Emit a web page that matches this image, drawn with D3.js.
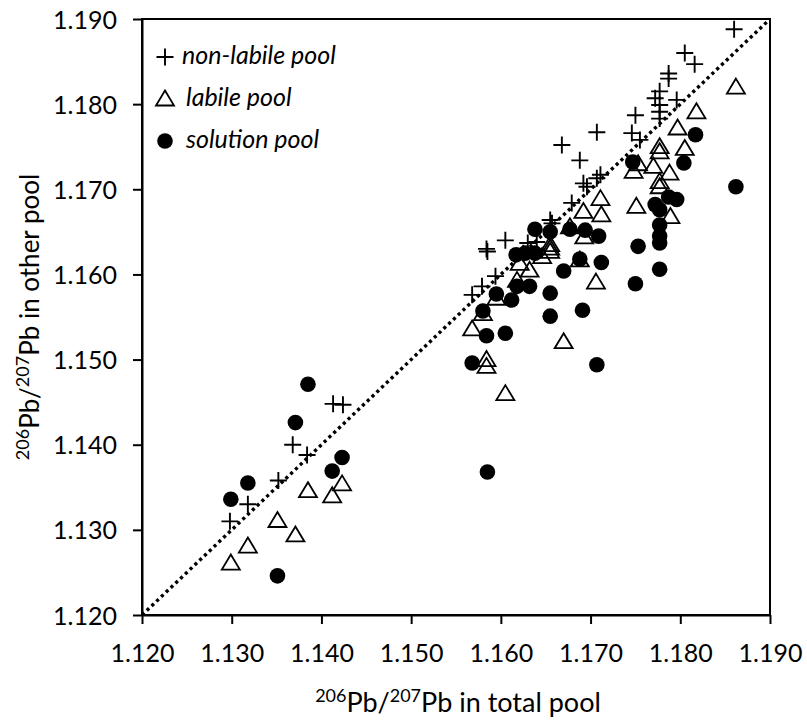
<!DOCTYPE html>
<html>
<head>
<meta charset="utf-8">
<script src="https://cdn.jsdelivr.net/npm/d3@7"></script>
<style>
  body { margin: 0; background: #fff; }
  svg { font-family: Lato, "Open Sans", sans-serif; fill: #000; }
</style>
</head>
<body>
<svg id="chart" width="807" height="722"></svg>
<script>
// [206Pb/207Pb in total pool, 206Pb/207Pb in the other pool]
const nonLabile = [
  [1.1298, 1.1310], [1.1318, 1.1330], [1.1352, 1.1358], [1.1368, 1.1400], [1.1384, 1.1388],
  [1.1413, 1.1448], [1.1424, 1.1447], [1.1568, 1.1576], [1.1579, 1.1586], [1.1594, 1.1598],
  [1.1584, 1.1630], [1.1585, 1.1627], [1.1605, 1.1640], [1.1625, 1.1625], [1.1630, 1.1637],
  [1.1640, 1.1638], [1.1655, 1.1664], [1.1657, 1.1660], [1.1679, 1.1684], [1.1668, 1.1752],
  [1.1688, 1.1734], [1.1692, 1.1707], [1.1696, 1.1703], [1.1711, 1.1717], [1.1707, 1.1713],
  [1.1707, 1.1767], [1.1746, 1.1766], [1.1750, 1.1787], [1.1755, 1.1758], [1.1772, 1.1807],
  [1.1777, 1.1815], [1.1777, 1.1799], [1.1777, 1.1791], [1.1777, 1.1783], [1.1796, 1.1805],
  [1.1787, 1.1836], [1.1787, 1.1830], [1.1805, 1.1860], [1.1816, 1.1847], [1.1860, 1.1888]
]

const labile = [
  [1.1299, 1.1261], [1.1318, 1.1281], [1.1351, 1.1311], [1.1371, 1.1294], [1.1385, 1.1346],
  [1.1412, 1.1340], [1.1423, 1.1354], [1.1568, 1.1536], [1.1580, 1.1554], [1.1584, 1.1500],
  [1.1584, 1.1492], [1.1595, 1.1572], [1.1605, 1.1460], [1.1618, 1.1593], [1.1621, 1.1613],
  [1.1632, 1.1605], [1.1646, 1.1621], [1.1655, 1.1635], [1.1655, 1.1631], [1.1655, 1.1627],
  [1.1670, 1.1521], [1.1677, 1.1656], [1.1688, 1.1617], [1.1692, 1.1674], [1.1693, 1.1644],
  [1.1706, 1.1591], [1.1711, 1.1689], [1.1712, 1.1670], [1.1748, 1.1721], [1.1751, 1.1680],
  [1.1753, 1.1730], [1.1770, 1.1727], [1.1777, 1.1750], [1.1777, 1.1744], [1.1777, 1.1709],
  [1.1777, 1.1703], [1.1788, 1.1719], [1.1789, 1.1668], [1.1797, 1.1772], [1.1805, 1.1748],
  [1.1818, 1.1791], [1.1862, 1.1820]
]

const solution = [
  [1.1299, 1.1336], [1.1318, 1.1355], [1.1351, 1.1246], [1.1371, 1.1426], [1.1385, 1.1471],
  [1.1412, 1.1369], [1.1423, 1.1385], [1.1568, 1.1496], [1.1580, 1.1557], [1.1584, 1.1528],
  [1.1585, 1.1368], [1.1595, 1.1577], [1.1605, 1.1531], [1.1612, 1.1570], [1.1617, 1.1623],
  [1.1618, 1.1586], [1.1627, 1.1625], [1.1632, 1.1586], [1.1638, 1.1625], [1.1638, 1.1653],
  [1.1655, 1.1650], [1.1655, 1.1578], [1.1655, 1.1551], [1.1670, 1.1604], [1.1677, 1.1653],
  [1.1688, 1.1618], [1.1691, 1.1558], [1.1694, 1.1652], [1.1707, 1.1494], [1.1709, 1.1645],
  [1.1712, 1.1614], [1.1747, 1.1732], [1.1750, 1.1589], [1.1753, 1.1633], [1.1772, 1.1682],
  [1.1777, 1.1676], [1.1777, 1.1658], [1.1777, 1.1645], [1.1777, 1.1637], [1.1777, 1.1606],
  [1.1787, 1.1691], [1.1796, 1.1688], [1.1804, 1.1731], [1.1817, 1.1764], [1.1862, 1.1703]
]

const ticks = [1.12, 1.13, 1.14, 1.15, 1.16, 1.17, 1.18, 1.19]
const legendLabels = ['non-labile pool', 'labile pool', 'solution pool']

const margin = { top: 19, right: 37, bottom: 107, left: 142 }
const width = 807 - margin.left - margin.right
const height = 722 - margin.top - margin.bottom

const svg = d3.select('#chart')
const g = svg.append('g').attr('transform', `translate(${margin.left},${margin.top})`)

const x = d3.scaleLinear().domain([1.12, 1.19]).range([0, width])
const y = d3.scaleLinear().domain([1.12, 1.19]).range([height, 0])
const fmt = d3.format('.3f')

// frame
g.append('rect')
  .attr('width', width)
  .attr('height', height)
  .attr('fill', 'none')
  .attr('stroke', '#000')
  .attr('stroke-width', 2)

const xAxis = g.append('g')
  .attr('transform', `translate(0,${height})`)
  .call(d3.axisBottom(x).tickValues(ticks).tickFormat(fmt).tickSize(9).tickSizeOuter(0))
const yAxis = g.append('g')
  .call(d3.axisLeft(y).tickValues(ticks).tickFormat(fmt).tickSize(9).tickSizeOuter(0))

for (const ax of [xAxis, yAxis]) {
  ax.select('.domain').attr('stroke-width', 2)
  ax.selectAll('.tick line').attr('stroke-width', 2)
  ax.selectAll('.tick text')
    .attr('fill', '#000')
    .style('font-size', '25px')
    .style('font-family', 'Lato, sans-serif')
}
xAxis.selectAll('.tick text').attr('y', 47).attr('dy', 0)
yAxis.selectAll('.tick text').attr('x', -25).attr('dy', '0.36em')

// 1:1 line
g.append('line')
  .attr('x1', x(1.12)).attr('y1', y(1.12))
  .attr('x2', x(1.19)).attr('y2', y(1.19))
  .attr('stroke', '#000')
  .attr('stroke-width', 3.4)
  .attr('stroke-dasharray', '3.2,3.4')

// solution pool
g.append('g').selectAll('circle')
  .data(solution)
  .enter()
  .append('circle')
  .attr('cx', d => x(d[0]))
  .attr('cy', d => y(d[1]))
  .attr('r', 7.8)
  .attr('fill', '#000')

// labile pool
const tri = 'M0,-8.5L9,6.5L-9,6.5Z'
g.append('g').selectAll('path')
  .data(labile)
  .enter()
  .append('path')
  .attr('d', tri)
  .attr('transform', d => `translate(${x(d[0])},${y(d[1])})`)
  .attr('fill', 'none')
  .attr('stroke', '#000')
  .attr('stroke-width', 1.8)

// non-labile pool
const plus = 'M-8.5,0H8.5M0,-8.5V8.5'
g.append('g').selectAll('path')
  .data(nonLabile)
  .enter()
  .append('path')
  .attr('d', plus)
  .attr('transform', d => `translate(${x(d[0])},${y(d[1])})`)
  .attr('fill', 'none')
  .attr('stroke', '#000')
  .attr('stroke-width', 1.9)

// legend
const legend = g.append('g').attr('transform', 'translate(23,38)')
legendLabels.forEach((lab, i) => {
  const row = legend.append('g').attr('transform', `translate(0,${i * 42})`)
  if (i === 0) {
    row.append('path').attr('d', plus).attr('stroke', '#000').attr('stroke-width', 1.9)
  } else if (i === 1) {
    row.append('path').attr('d', tri).attr('fill', 'none').attr('stroke', '#000').attr('stroke-width', 1.8)
  } else {
    row.append('circle').attr('r', 7.8).attr('fill', '#000')
  }
  row.append('text')
    .attr('x', i === 0 ? 17 : 21)
    .attr('y', 7)
    .attr('fill', '#000')
    .style('font-size', '25px')
    .style('font-style', 'italic')
    .text(lab)
})

// axis titles with superscripts
function isotopeTitle (sel, tail) {
  sel.append('tspan').text('206').style('font-size', '18px').attr('dy', -10)
  sel.append('tspan').text('Pb/').attr('dy', 10)
  sel.append('tspan').text('207').style('font-size', '18px').attr('dy', -10)
  sel.append('tspan').text('Pb ' + tail).attr('dy', 10)
}

svg.append('text')
  .attr('x', 458)
  .attr('y', 712)
  .attr('text-anchor', 'middle')
  .attr('fill', '#000')
  .style('font-size', '27px')
  .call(isotopeTitle, 'in total pool')

svg.append('text')
  .attr('transform', `translate(39,${margin.top + height / 2}) rotate(-90)`)
  .attr('text-anchor', 'middle')
  .attr('fill', '#000')
  .style('font-size', '26px')
  .call(isotopeTitle, 'in other pool')
</script>
</body>
</html>
